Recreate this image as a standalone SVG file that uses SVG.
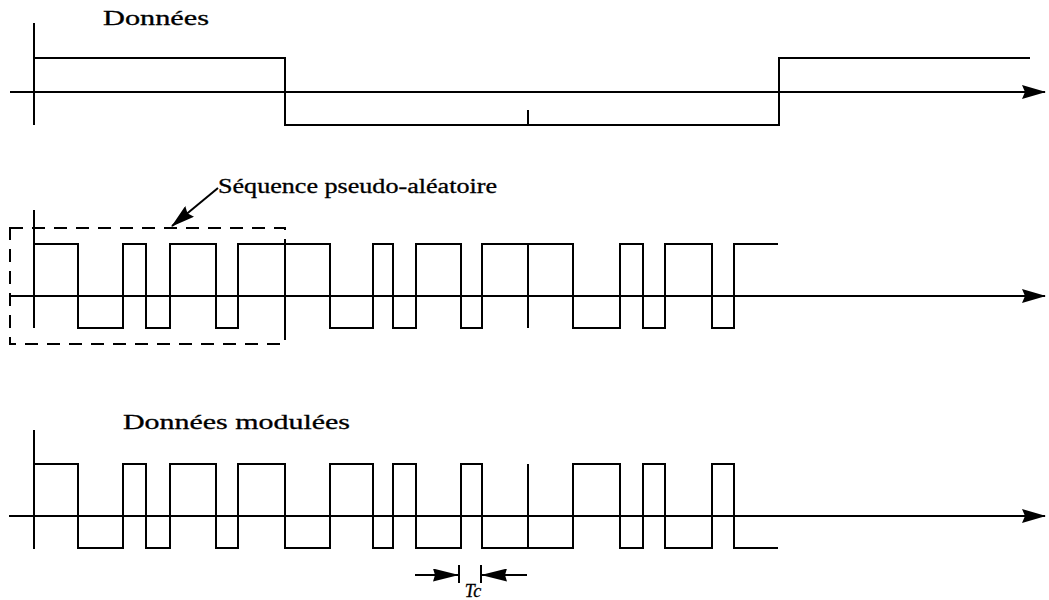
<svg xmlns="http://www.w3.org/2000/svg" width="1049" height="600" viewBox="0 0 1049 600">
<defs>
<style>
.w{fill:none;stroke:#000;stroke-width:2;stroke-linejoin:miter}
.ax{fill:none;stroke:#000;stroke-width:2}
.dash{fill:none;stroke:#000;stroke-width:2;stroke-dasharray:13 9}
.t{font-family:"Liberation Serif","Times New Roman",serif;fill:#000;stroke:#000;stroke-width:0.3}
</style>
<marker id="ah" viewBox="0 0 24 14" refX="23" refY="7" markerWidth="24" markerHeight="14" markerUnits="userSpaceOnUse" orient="auto">
<path d="M0,0 L24,7 L0,14 L3,7 Z" fill="#000"/>
</marker>
<marker id="ahs" viewBox="0 0 26 13" refX="26" refY="6.5" markerWidth="26" markerHeight="13" markerUnits="userSpaceOnUse" orient="auto">
<path d="M0,0 L26,6.5 L0,13 L2,6.5 Z" fill="#000"/>
</marker>
</defs>
<rect width="1049" height="600" fill="#fff"/>

<g id="donnees">
<text class="t" x="103" y="25" font-size="20" textLength="106" lengthAdjust="spacingAndGlyphs">Données</text>
<path class="ax" d="M34,23 V125"/>
<path class="w" d="M34,58 H285 V125 H779 V58 H1030"/>
<path class="ax" d="M528,110 V125"/>
</g>

<g id="sequence">
<text class="t" x="218" y="193" font-size="20" textLength="279" lengthAdjust="spacingAndGlyphs">Séquence pseudo-aléatoire</text>
<path class="ax" d="M34,210 V328"/>
<rect class="dash" x="10" y="228" width="275" height="116"/>
<path class="w" d="M34,244 H78 V328 H123 V244 H146 V328 H170 V244 H216 V328 H238 V244 H330 V328 H373 V244 H393 V328 H416 V244 H461 V328 H482 V244 H573 V328 H620 V244 H643 V328 H665 V244 H712 V328 H734 V244 H778"/>
<path class="ax" d="M285,244 V328 M528,244 V328"/>
</g>

<g id="modulees">
<text class="t" x="123" y="429" font-size="20" textLength="227" lengthAdjust="spacingAndGlyphs">Données modulées</text>
<path class="ax" d="M34,430 V549"/>
<path class="w" d="M34,464 H78 V548 H123 V464 H146 V548 H170 V464 H216 V548 H238 V464 H285 V548 H330 V464 H373 V548 H393 V464 H416 V548 H461 V464 H482 V548 H573 V464 H620 V548 H643 V464 H665 V548 H712 V464 H734 V548 H778"/>
<path class="ax" d="M528,464 V548"/>
</g>

<g id="tc">
<path class="ax" d="M459,565 V583 M481,565 V583"/>
<text class="t" x="473" y="597" font-size="18" font-style="italic" text-anchor="middle">Tc</text>
</g>

<g id="connectors">
<line class="ax" x1="10" y1="92" x2="1045" y2="92" marker-end="url(#ah)"/>
<line class="ax" x1="10" y1="296" x2="1045" y2="296" marker-end="url(#ah)"/>
<line class="ax" x1="9" y1="516" x2="1045" y2="516" marker-end="url(#ah)"/>
<line class="ax" x1="218" y1="188" x2="172" y2="226" marker-end="url(#ah)"/>
<line class="ax" x1="415" y1="575" x2="459" y2="575" marker-end="url(#ahs)"/>
<line class="ax" x1="527" y1="575" x2="481" y2="575" marker-end="url(#ahs)"/>
</g>
</svg>
